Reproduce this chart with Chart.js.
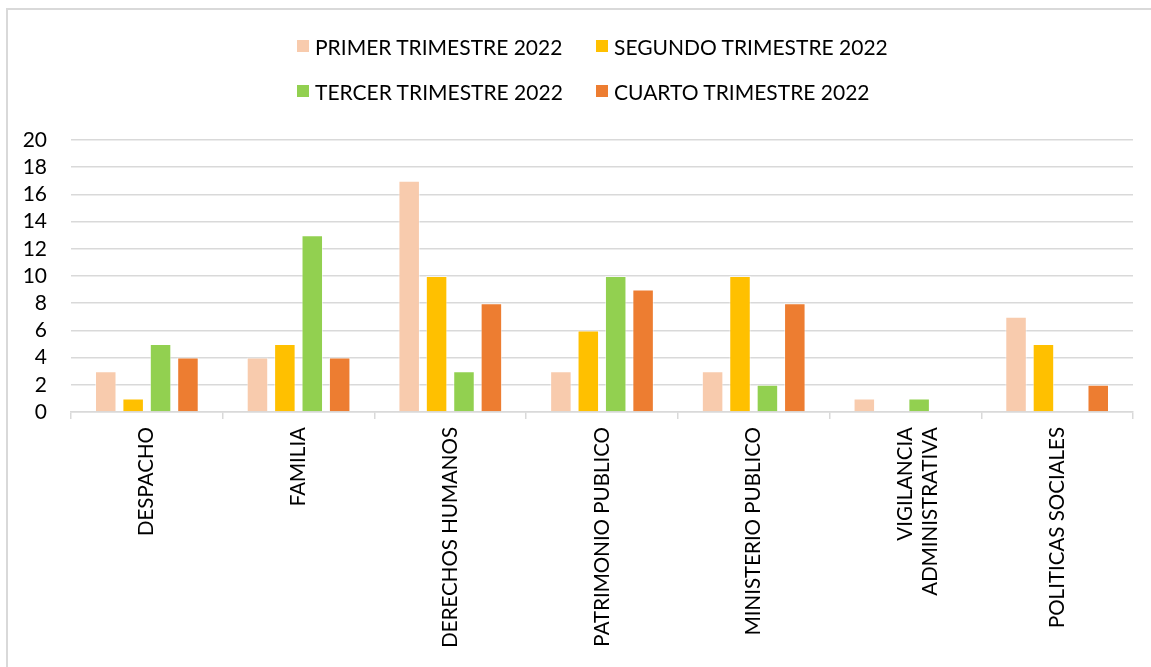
<!DOCTYPE html>
<html>
<head>
<meta charset="utf-8">
<script src="https://cdn.jsdelivr.net/npm/chart.js@4"></script>
<style>
  body { margin: 0; background: #fff; }
  #wrap { position: relative; width: 1151px; height: 667px; overflow: hidden; }
  #frame { position: absolute; left: 6px; top: 8px; width: 2000px; height: 2000px;
    border-left: 2px solid #d9d9d9; border-top: 2px solid #d9d9d9; }
  #legend { position: absolute; left: 297px; top: 31px; display: grid;
    grid-template-columns: 299px auto; row-gap: 15px; font-family: Lato, sans-serif;
    font-size: 21px; color: #000; }
  .item { display: flex; align-items: center; height: 30px; white-space: nowrap; }
  .box { width: 12px; height: 12px; margin-right: 6px; }
  canvas { position: absolute; left: 0; top: 0; }
</style>
</head>
<body>
<div id="wrap">
  <div id="frame"></div>
  <canvas id="chart" width="1151" height="667"></canvas>
  <div id="legend"></div>
</div>
<script>
const categories = [
  'DESPACHO',
  'FAMILIA',
  'DERECHOS HUMANOS',
  'PATRIMONIO PUBLICO',
  'MINISTERIO PUBLICO',
  ['VIGILANCIA', 'ADMINISTRATIVA'],
  'POLITICAS SOCIALES'
];
const seriesNames = [
  'PRIMER TRIMESTRE 2022',
  'SEGUNDO TRIMESTRE 2022',
  'TERCER TRIMESTRE 2022',
  'CUARTO TRIMESTRE 2022'
];
const primer = [3, 4, 17, 3, 3, 1, 7];
const segundo = [1, 5, 10, 6, 10, 0, 5];
const tercer = [5, 13, 3, 10, 2, 1, 0];
const cuarto = [4, 4, 8, 9, 8, 0, 2];
const colors = ['#F8CBAD', '#FFC000', '#92D050', '#ED7D31'];
const yTicks = [0, 2, 4, 6, 8, 10, 12, 14, 16, 18, 20];

const gridColor = '#d9d9d9';
Chart.defaults.font.family = 'Lato, sans-serif';
Chart.defaults.color = '#000';

const ctx = document.getElementById('chart').getContext('2d');
const chart = new Chart(ctx, {
  type: 'bar',
  data: {
    labels: categories,
    datasets: [primer, segundo, tercer, cuarto].map((vals, i) => ({
      label: seriesNames[i],
      data: vals,
      backgroundColor: colors[i],
      borderColor: 'rgba(255,255,255,0.5)',
      borderWidth: 1,
      categoryPercentage: 0.7225,
      barPercentage: 0.785
    }))
  },
  options: {
    responsive: false,
    animation: false,
    layout: { padding: { top: 140, right: 18, bottom: 0, left: 0 } },
    plugins: {
      legend: { display: false },
      tooltip: { enabled: false }
    },
    scales: {
      x: {
        grid: {
          display: true,
          offset: true,
          drawOnChartArea: false,
          drawTicks: true,
          tickLength: 7,
          color: gridColor,
          lineWidth: 1.5
        },
        border: { display: true, color: gridColor, width: 1.5 },
        ticks: {
          font: { size: 20.5 },
          maxRotation: 90,
          minRotation: 90,
          padding: 8,
          autoSkip: false
        },
        afterFit: (s) => { s.height = 255; }
      },
      y: {
        min: 0,
        max: 20,
        afterBuildTicks: (s) => { s.ticks = yTicks.map(v => ({ value: v })); },
        grid: { color: gridColor, lineWidth: 1.5, drawTicks: false },
        border: { display: false },
        ticks: { font: { size: 21 }, padding: 24, autoSkip: false, stepSize: 2 },
        afterFit: (s) => { s.width = 71; }
      }
    }
  }
});

// legend as html, built from the datasets
const legendEl = document.getElementById('legend');
chart.data.datasets.forEach((ds) => {
  const item = document.createElement('div');
  item.className = 'item';
  const box = document.createElement('span');
  box.className = 'box';
  box.style.background = ds.backgroundColor;
  item.appendChild(box);
  item.appendChild(document.createTextNode(ds.label));
  legendEl.appendChild(item);
});
</script>
</body>
</html>
